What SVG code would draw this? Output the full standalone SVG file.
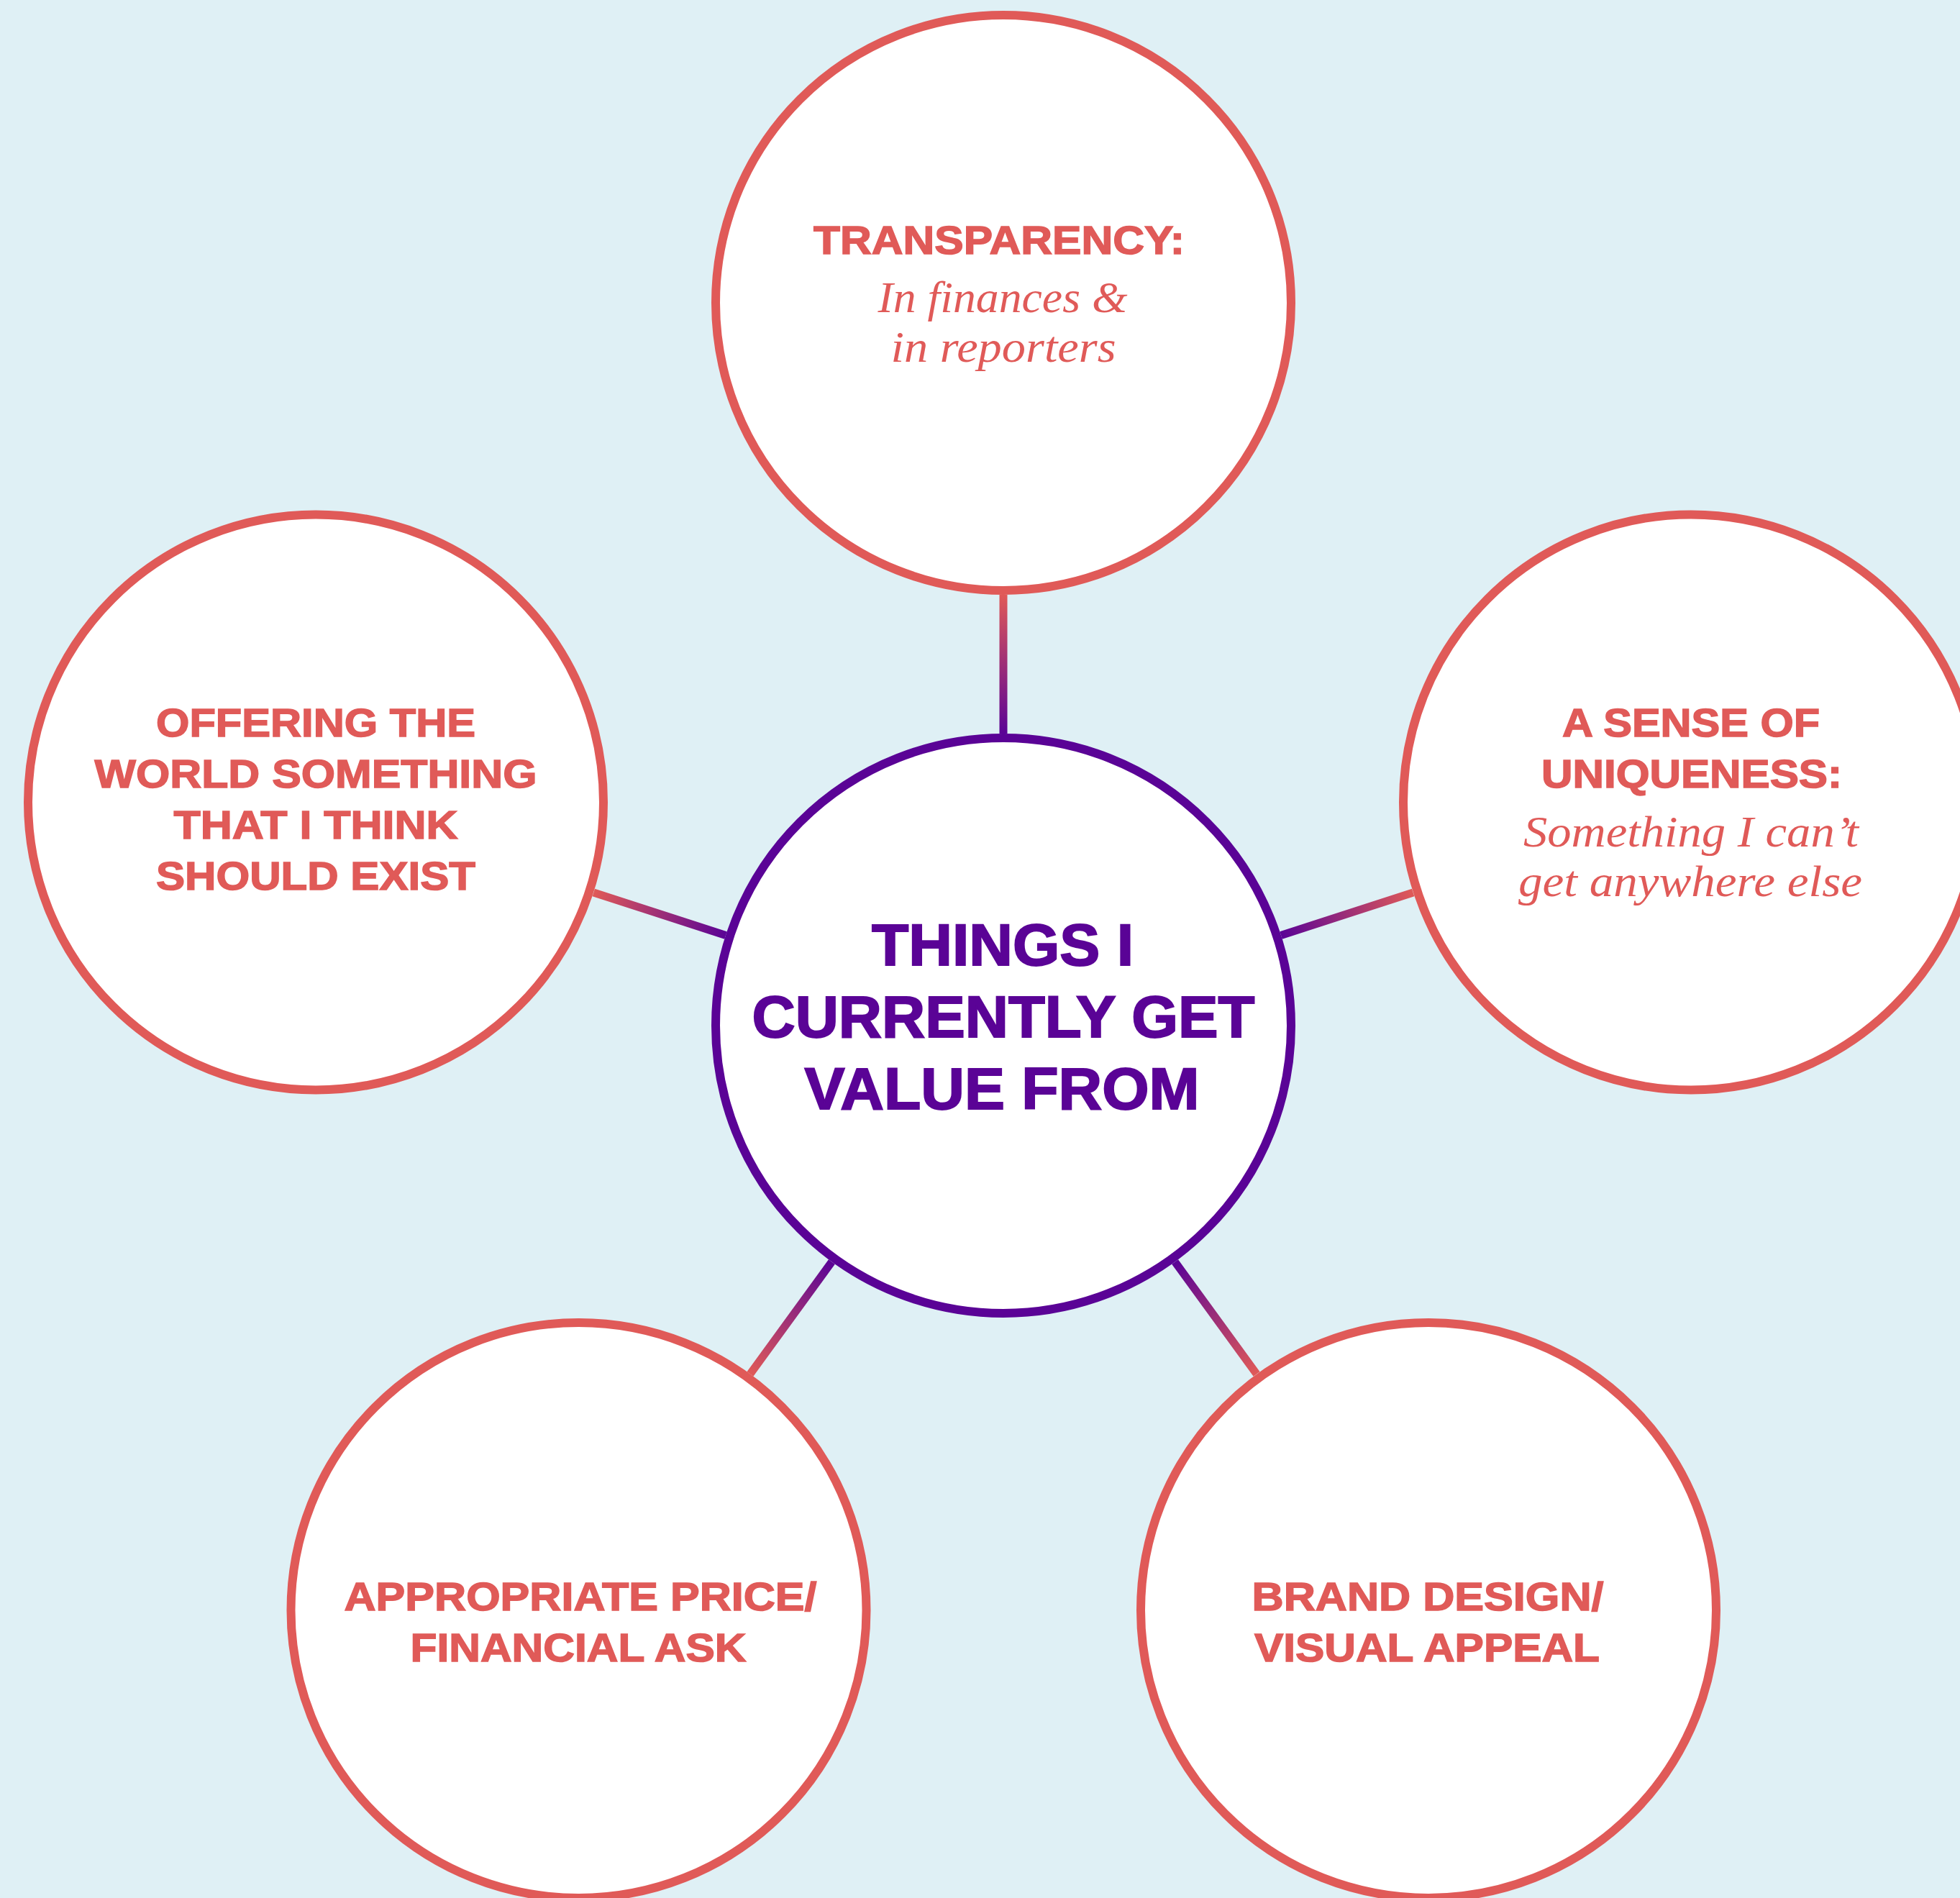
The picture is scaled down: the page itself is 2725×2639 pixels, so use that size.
<svg xmlns="http://www.w3.org/2000/svg" width="2725" height="2639" viewBox="0 0 2725 2639">
  <style>
    .bg { fill: #dff0f5; }
    .node { fill: #ffffff; stroke: #e05a58; stroke-width: 12; }
    .hub { fill: #ffffff; stroke: #5a0396; stroke-width: 12; }
    .cap { font-family: "Liberation Sans", "Open Sans", "Noto Sans", sans-serif; font-weight: 700; font-size: 56px; fill: #e05a58; stroke: #e05a58; stroke-width: 1.5; text-anchor: middle; }
    .sub { font-family: "Liberation Serif", "DejaVu Serif", serif; font-style: italic; font-size: 62px; fill: #e05a58; text-anchor: middle; }
    .hubtxt { font-family: "Liberation Sans", "Open Sans", "Noto Sans", sans-serif; font-weight: 700; font-size: 81px; fill: #5a0396; stroke: #5a0396; stroke-width: 2; text-anchor: middle; }
    .link { stroke-width: 11; fill: none; }
  </style>
  <defs>
    <linearGradient id="g-top" gradientUnits="userSpaceOnUse" x1="1395" y1="1020" x2="1395" y2="827">
      <stop offset="0" stop-color="#5a0396"/><stop offset="1" stop-color="#e05a58"/>
    </linearGradient>
    <linearGradient id="g-left" gradientUnits="userSpaceOnUse" x1="1009" y1="1300.5" x2="825.3" y2="1240.9">
      <stop offset="0" stop-color="#5a0396"/><stop offset="1" stop-color="#e05a58"/>
    </linearGradient>
    <linearGradient id="g-right" gradientUnits="userSpaceOnUse" x1="1781" y1="1300.5" x2="1964.7" y2="1240.9">
      <stop offset="0" stop-color="#5a0396"/><stop offset="1" stop-color="#e05a58"/>
    </linearGradient>
    <linearGradient id="g-bl" gradientUnits="userSpaceOnUse" x1="1156.4" y1="1754.5" x2="1042.9" y2="1910.6">
      <stop offset="0" stop-color="#5a0396"/><stop offset="1" stop-color="#e05a58"/>
    </linearGradient>
    <linearGradient id="g-br" gradientUnits="userSpaceOnUse" x1="1633.6" y1="1754.5" x2="1747.1" y2="1910.6">
      <stop offset="0" stop-color="#5a0396"/><stop offset="1" stop-color="#e05a58"/>
    </linearGradient>
  </defs>

  <rect class="bg" x="0" y="0" width="2725" height="2639"/>

  <!-- spokes from the hub to each outer circle -->
  <g id="connectors">
    <line class="link" stroke="url(#g-top)" x1="1395" y1="1020" x2="1395" y2="827"/>
    <line class="link" stroke="url(#g-left)" x1="1009" y1="1300.5" x2="825.3" y2="1240.9"/>
    <line class="link" stroke="url(#g-right)" x1="1781" y1="1300.5" x2="1964.7" y2="1240.9"/>
    <line class="link" stroke="url(#g-bl)" x1="1156.4" y1="1754.5" x2="1042.9" y2="1910.6"/>
    <line class="link" stroke="url(#g-br)" x1="1633.6" y1="1754.5" x2="1747.1" y2="1910.6"/>
  </g>

  <g id="hub">
    <circle class="hub" cx="1395" cy="1426" r="400"/>
    <text class="hubtxt" x="1394" y="1342" textLength="364" lengthAdjust="spacingAndGlyphs">THINGS I</text>
    <text class="hubtxt" x="1395" y="1442" textLength="699" lengthAdjust="spacingAndGlyphs">CURRENTLY GET</text>
    <text class="hubtxt" x="1393" y="1542" textLength="549" lengthAdjust="spacingAndGlyphs">VALUE FROM</text>
  </g>

  <g id="transparency">
    <circle class="node" cx="1395" cy="421" r="400"/>
    <text class="cap" x="1389" y="353" textLength="516" lengthAdjust="spacingAndGlyphs">TRANSPARENCY:</text>
    <text class="sub" x="1394" y="434" textLength="347" lengthAdjust="spacingAndGlyphs">In finances &amp;</text>
    <text class="sub" x="1395" y="503" textLength="313" lengthAdjust="spacingAndGlyphs">in reporters</text>
  </g>

  <g id="offering">
    <circle class="node" cx="439" cy="1115.5" r="400"/>
    <text class="cap" x="439" y="1024" textLength="444" lengthAdjust="spacingAndGlyphs">OFFERING THE</text>
    <text class="cap" x="439" y="1095" textLength="615" lengthAdjust="spacingAndGlyphs">WORLD SOMETHING</text>
    <text class="cap" x="439" y="1166" textLength="395" lengthAdjust="spacingAndGlyphs">THAT I THINK</text>
    <text class="cap" x="439" y="1237" textLength="444" lengthAdjust="spacingAndGlyphs">SHOULD EXIST</text>
  </g>

  <g id="uniqueness">
    <circle class="node" cx="2351" cy="1115.5" r="400"/>
    <text class="cap" x="2351" y="1024" textLength="358" lengthAdjust="spacingAndGlyphs">A SENSE OF</text>
    <text class="cap" x="2352" y="1095" textLength="418" lengthAdjust="spacingAndGlyphs">UNIQUENESS:</text>
    <text class="sub" x="2351" y="1177" textLength="466" lengthAdjust="spacingAndGlyphs">Something I can’t</text>
    <text class="sub" x="2350" y="1246" textLength="478" lengthAdjust="spacingAndGlyphs">get anywhere else</text>
  </g>

  <g id="price">
    <circle class="node" cx="804.5" cy="2239" r="400"/>
    <text class="cap" x="807" y="2239" textLength="657" lengthAdjust="spacingAndGlyphs">APPROPRIATE PRICE/</text>
    <text class="cap" x="804" y="2310" textLength="467" lengthAdjust="spacingAndGlyphs">FINANCIAL ASK</text>
  </g>

  <g id="brand">
    <circle class="node" cx="1986" cy="2239" r="400"/>
    <text class="cap" x="1985" y="2239" textLength="489" lengthAdjust="spacingAndGlyphs">BRAND DESIGN/</text>
    <text class="cap" x="1984" y="2310" textLength="480" lengthAdjust="spacingAndGlyphs">VISUAL APPEAL</text>
  </g>
</svg>
